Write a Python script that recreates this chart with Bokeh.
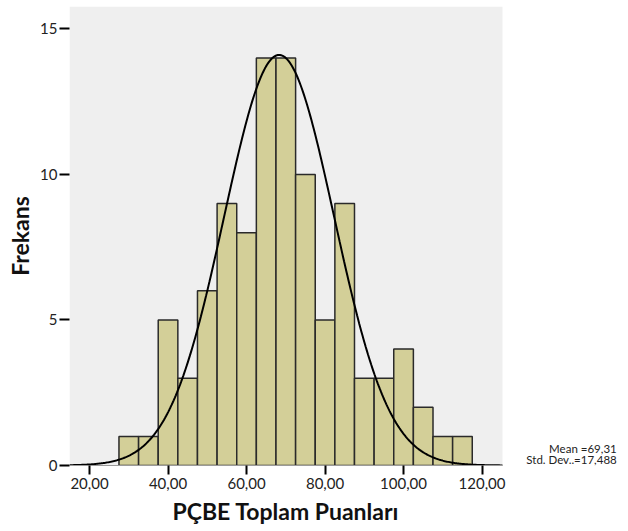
import numpy as np
from bokeh.plotting import figure
from bokeh.models import FixedTicker, Label, Range1d, BoxAnnotation, Title
from bokeh.embed import file_html
from bokeh.resources import INLINE

# ---- data ----
bin_centers = [30, 35, 40, 45, 50, 55, 60, 65, 70, 75, 80, 85, 90, 95, 100, 105, 110, 115]
counts = [1, 1, 5, 3, 6, 9, 8, 14, 14, 10, 5, 9, 3, 3, 4, 2, 1, 1]
bin_width = 5.0
x_ticks = [20, 40, 60, 80, 100, 120]
x_tick_labels = ["20,00", "40,00", "60,00", "80,00", "100,00", "120,00"]
y_ticks = [0, 5, 10, 15]
# fitted normal curve as drawn
curve_center = 68.3
curve_sd = 14.0
stats_lines = ["Mean =69,31", "Std. Dev..=17,488"]

FONT = "Lato"
X_LO, X_HI = 14.9, 125.2        # plotting panel extent
X_CANVAS_HI = 157.3             # frame extends to right canvas edge

p = figure(width=628, height=531, output_backend="svg", toolbar_location=None,
           x_range=Range1d(X_LO, X_CANVAS_HI), y_range=Range1d(0, 15.77),
           min_border_left=69, min_border_right=0, min_border_top=6,
           min_border_bottom=66)
p.background_fill_color = "white"
p.border_fill_color = "white"
p.outline_line_color = None
p.xgrid.visible = False
p.ygrid.visible = False

p.add_layout(BoxAnnotation(left=X_LO, right=X_HI, fill_color="#efefef",
                           fill_alpha=1.0, line_color=None, level="underlay"))

lefts = [c - bin_width / 2 for c in bin_centers]
rights = [c + bin_width / 2 for c in bin_centers]
p.quad(left=lefts, right=rights, bottom=0, top=counts,
       fill_color="#d3cf98", line_color="#2a2a2a", line_width=1.5)

n = sum(counts)
xs = np.linspace(X_LO, X_HI, 400)
ys = n * bin_width / (curve_sd * np.sqrt(2 * np.pi)) * np.exp(-0.5 * ((xs - curve_center) / curve_sd) ** 2)
p.line(xs, ys, line_color="black", line_width=2)

# axes
xa = p.xaxis[0]
xa.ticker = FixedTicker(ticks=x_ticks)
xa.bounds = (X_LO, X_HI)
xa.major_label_overrides = {t: l for t, l in zip(x_ticks, x_tick_labels)}
xa.axis_line_color = "#9a9a9a"
xa.axis_line_width = 1
xa.major_tick_line_color = "black"
xa.major_tick_line_width = 2
xa.major_tick_out = 9
xa.major_tick_in = 0
xa.minor_tick_line_color = None
xa.major_label_text_font = FONT
xa.major_label_text_font_size = "15px"
xa.major_label_text_color = "#222222"
xa.major_label_standoff = 3

# x-axis title, centred under the grey panel rather than the full frame
p.add_layout(Title(text="PÇBE Toplam Puanları", align="left", offset=103,
                   vertical_align="bottom",
                   text_font=FONT, text_font_style="bold",
                   text_font_size="23px", text_color="#111111",
                   standoff=7), "below")

ya = p.yaxis[0]
ya.ticker = FixedTicker(ticks=y_ticks)
ya.axis_line_color = None
ya.major_tick_line_color = "black"
ya.major_tick_line_width = 2
ya.major_tick_out = 10
ya.major_tick_in = 0
ya.minor_tick_line_color = None
ya.major_label_text_font = FONT
ya.major_label_text_font_size = "15px"
ya.major_label_text_color = "#222222"
ya.major_label_standoff = 2
ya.axis_label = "Frekans"
ya.axis_label_text_font = FONT
ya.axis_label_text_font_style = "bold"
ya.axis_label_text_font_size = "23px"
ya.axis_label_text_color = "#111111"
ya.axis_label_standoff = 3

# stats text to the right of the panel
for txt, yv in zip(stats_lines, [0.37, 0.0]):
    p.add_layout(Label(x=154.3, y=yv, text=txt, text_align="right",
                       text_baseline="bottom", text_font=FONT,
                       text_font_size="11.5px", text_color="#222222"))

open("out.html", "w").write(file_html(p, INLINE))
